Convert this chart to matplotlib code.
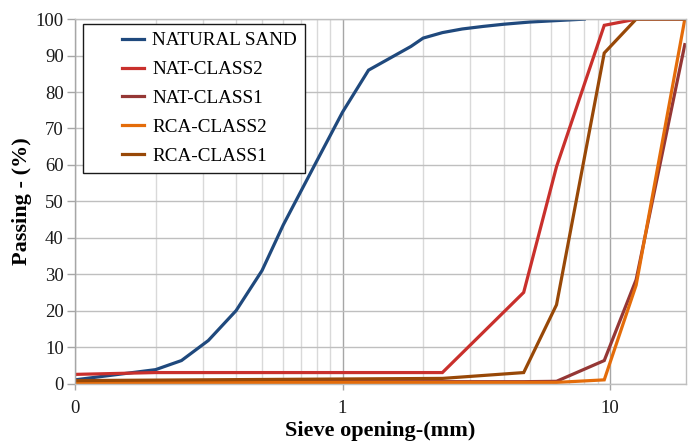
import matplotlib
matplotlib.use("Agg")
import matplotlib.pyplot as plt
from matplotlib.ticker import FixedLocator, FixedFormatter, LogLocator, NullFormatter
from matplotlib.legend_handler import HandlerLine2D

# ---- data ----
sand_x = [0.1, 0.2, 0.25, 0.315, 0.4, 0.5, 0.6, 0.8, 1.0, 1.25, 1.8, 2.0, 2.36, 2.8, 3.35, 4.0, 5.0, 6.3, 8.0]
sand_y = [1.0, 3.8, 6.3, 11.8, 20.0, 31.0, 43.5, 61.0, 74.5, 86.0, 92.5, 94.8, 96.3, 97.3, 98.0, 98.6, 99.2, 99.6, 100.0]

nat2_x = [0.1, 0.2, 2.36, 4.75, 6.3, 9.5, 12.5, 19.0]
nat2_y = [2.5, 3.0, 3.0, 25.0, 59.5, 98.3, 100.0, 100.0]

nat1_x = [0.1, 2.36, 4.75, 6.3, 9.5, 12.5, 19.0]
nat1_y = [0.5, 0.5, 0.5, 0.6, 6.3, 28.5, 93.0]

rca2_x = [0.1, 2.36, 4.75, 6.3, 9.5, 12.5, 19.0]
rca2_y = [0.3, 0.3, 0.3, 0.3, 1.0, 27.0, 100.0]

rca1_x = [0.1, 2.36, 4.75, 6.3, 9.5, 12.5, 19.0]
rca1_y = [0.8, 1.4, 3.0, 21.6, 90.7, 100.0, 100.0]

series_names = ["NATURAL SAND", "NAT-CLASS2", "NAT-CLASS1", "RCA-CLASS2", "RCA-CLASS1"]
series_colors = ["#1f497d", "#c9302c", "#953735", "#e46c0a", "#984807"]

x_ticks = [0.1, 1, 10]
x_tick_labels = ["0", "1", "10"]
y_ticks = list(range(0, 101, 10))

serif = ["Liberation Serif", "DejaVu Serif"]
plt.rcParams["font.family"] = serif


class RightHandler(HandlerLine2D):
    """Draw the legend line only on the right part of the handle box."""
    def create_artists(self, legend, orig_handle, xdescent, ydescent, width, height, fontsize, trans):
        arts = super().create_artists(legend, orig_handle, xdescent, ydescent, width, height, fontsize, trans)
        vis = 1.15 * fontsize
        for a in arts:
            yd = list(a.get_ydata())
            y0 = yd[0] if len(yd) else (height - ydescent) / 2.0
            a.set_data([-xdescent + width - vis, -xdescent + width], [y0, y0])
        return arts


fig = plt.figure(figsize=(6.91, 4.45), dpi=100)
ax = fig.add_axes([0.1085, 0.1382, 0.8843, 0.8188])

data = [(sand_x, sand_y), (nat2_x, nat2_y), (nat1_x, nat1_y), (rca2_x, rca2_y), (rca1_x, rca1_y)]
lines = []
for (xs, ys), name, col in zip(data, series_names, series_colors):
    ln, = ax.plot(xs, ys, color=col, lw=2.3, label=name, solid_joinstyle="miter")
    lines.append(ln)

ax.set_xscale("log")
ax.set_xlim(0.1, 19.2)
ax.set_ylim(0, 100)

ax.xaxis.set_major_locator(FixedLocator(x_ticks))
ax.xaxis.set_major_formatter(FixedFormatter(x_tick_labels))
ax.xaxis.set_minor_locator(LogLocator(base=10, subs=range(2, 10)))
ax.xaxis.set_minor_formatter(NullFormatter())
ax.set_yticks(y_ticks)

ax.grid(True, which="major", axis="x", color="#a6a6a6", lw=1.0)
ax.grid(True, which="minor", axis="x", color="#d9d9d9", lw=1.0)
ax.grid(True, which="major", axis="y", color="#bfbfbf", lw=1.0)
ax.set_axisbelow(True)

for s in ax.spines.values():
    s.set_color("#bfbfbf")
    s.set_linewidth(1.0)
ax.spines["left"].set_color("#a6a6a6")

ax.tick_params(axis="both", which="major", labelsize=13.5, colors="#a6a6a6", labelcolor="#1a1a1a", length=6, width=1)
ax.tick_params(axis="x", which="major", length=4, pad=8)
ax.tick_params(axis="x", which="minor", length=0)
ax.tick_params(axis="y", pad=2)

ax.set_xlabel("Sieve opening-(mm)", fontsize=16, fontweight="bold", labelpad=3)
ax.set_ylabel("Passing - (%)", fontsize=16, fontweight="bold", labelpad=3)

leg = ax.legend(handles=lines, loc="upper left", bbox_to_anchor=(0.0131, 0.986), fontsize=13.8,
                frameon=True, fancybox=False, edgecolor="#1a1a1a", framealpha=1,
                handlelength=2.8, handletextpad=0.42, labelspacing=0.6,
                borderpad=0.4, borderaxespad=0,
                handler_map={ln: RightHandler() for ln in lines})
leg.get_frame().set_linewidth(1.0)
leg.set_zorder(5)

fig.savefig("out.png", dpi=100)
